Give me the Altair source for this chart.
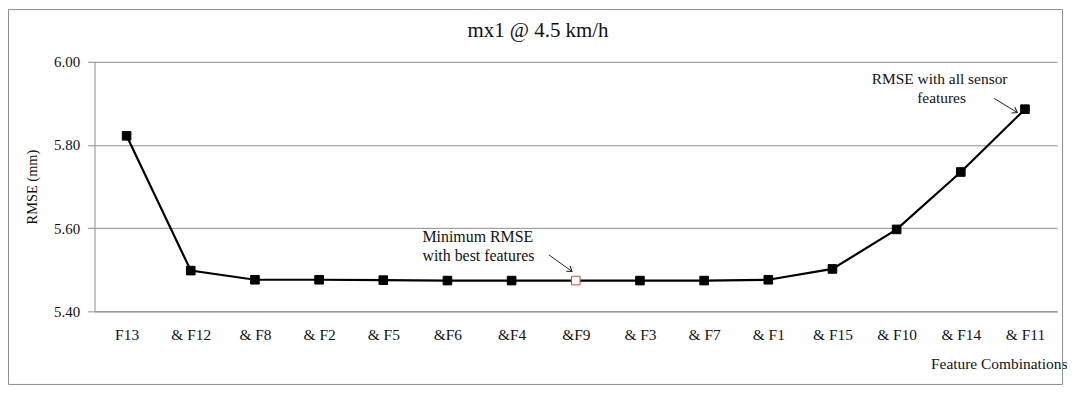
import altair as alt
import pandas as pd

categories = ["F13", "& F12", "& F8", "& F2", "& F5", "&F6", "&F4", "&F9",
              "& F3", "& F7", "& F1", "& F15", "& F10", "& F14", "& F11"]
rmse = [5.822, 5.498, 5.476, 5.476, 5.475, 5.474, 5.474, 5.474,
        5.474, 5.474, 5.476, 5.502, 5.597, 5.735, 5.886]
best_index = 7
title_text = "mx1 @ 4.5 km/h"

# annotation texts
ann_text = ["Minimum RMSE", "with best features", "RMSE with all sensor", "features"]
ann_x = [4.61, 4.61, 12.67, 12.70]
ann_y = [5.579, 5.534, 5.959, 5.912]
ann_align = ["left", "left", "center", "center"]

# arrows (start x, start y, end x, end y, head angle)
arr_x = [6.58, 13.52]
arr_y = [5.536, 5.912]
arr_x2 = [6.94, 13.88]
arr_y2 = [5.496, 5.878]
arr_angle = [36.5, 31.0]

df = pd.DataFrame({"idx": list(range(len(categories))), "cat": categories, "rmse": rmse})
df["best"] = df["idx"] == best_index
ann = pd.DataFrame({"x": ann_x, "y": ann_y, "text": ann_text, "align": ann_align})
arr = pd.DataFrame({"x": arr_x, "y": arr_y, "x2": arr_x2, "y2": arr_y2, "angle": arr_angle})

label_expr = "[" + ",".join("'" + c + "'" for c in categories) + "][datum.value]"

xscale = alt.Scale(domain=[-0.5, len(categories) - 0.5], nice=False, zero=False)
yscale = alt.Scale(domain=[5.4, 6.0], nice=False, zero=False)

GRID = "#8c8c8c"
SERIF = "Liberation Serif"
TXT = "#111111"

x_axis = alt.Axis(
    values=list(range(len(categories))), labelExpr=label_expr, grid=False,
    ticks=False, domain=True, domainColor=GRID, labelFont=SERIF, labelFontSize=15.5,
    labelColor=TXT, labelPadding=16, title="Feature Combinations",
    titleFont=SERIF, titleFontSize=15.5, titleFontWeight="normal", titleColor=TXT,
    titleAnchor="end", titleAlign="right", titleX=978, titleY=52, titleBaseline="middle",
)
y_axis = alt.Axis(
    values=[5.4, 5.6, 5.8, 6.0], format=".2f", grid=True, gridColor=GRID,
    domainColor=GRID, tickColor=GRID, tickSize=7, labelFont=SERIF, labelFontSize=15,
    labelColor=TXT, labelPadding=8, title="RMSE (mm)", titleFont=SERIF,
    titleFontSize=14.5, titleFontWeight="normal", titleColor=TXT, titleX=-62,
    titleBaseline="middle",
)

base = alt.Chart(df)
line = base.mark_line(color="black", strokeWidth=2.2).encode(
    x=alt.X("idx:Q", scale=xscale, axis=x_axis),
    y=alt.Y("rmse:Q", scale=yscale, axis=y_axis),
)
pts = base.mark_point(shape="square", size=75, filled=True, opacity=1).encode(
    x="idx:Q", y="rmse:Q",
    fill=alt.condition("datum.best", alt.value("white"), alt.value("black")),
    stroke=alt.condition("datum.best", alt.value("#b0504a"), alt.value("black")),
    strokeWidth=alt.value(1),
)
t_left = alt.Chart(ann[ann["align"] == "left"]).mark_text(
    font=SERIF, fontSize=16, color=TXT, baseline="middle", align="left"
).encode(x="x:Q", y="y:Q", text="text:N")
t_center = alt.Chart(ann[ann["align"] == "center"]).mark_text(
    font=SERIF, fontSize=15.5, color=TXT, baseline="middle", align="center"
).encode(x="x:Q", y="y:Q", text="text:N")
arrows = alt.Chart(arr).mark_rule(color="#222", strokeWidth=1).encode(
    x="x:Q", y="y:Q", x2="x2:Q", y2="y2:Q"
)
heads = alt.Chart(arr).mark_point(
    shape="M-1,-0.7L0,0L-1,0.7", size=90, filled=False, color="#222", strokeWidth=1.1, opacity=1
).encode(x="x2:Q", y="y2:Q", angle=alt.Angle("angle:Q", scale=None))

one = pd.DataFrame({"t": [title_text]})
border = alt.Chart(one).mark_rect(
    fillOpacity=0, stroke="#8c8c8c", strokeWidth=1
).encode(
    x=alt.value(-86.5), x2=alt.value(973.5), y=alt.value(-52.5), y2=alt.value(324.5)
)
title = alt.Chart(one).mark_text(
    font=SERIF, fontSize=21, color=TXT, align="center", baseline="middle"
).encode(x=alt.value(446), y=alt.value(-31), text="t:N")

chart = alt.layer(border, title, line, pts, arrows, heads, t_left, t_center).properties(
    width=968, height=251,
    background="white",
    autosize=alt.AutoSizeParams(type="none"),
    padding={"left": 87, "top": 53, "right": 10, "bottom": 76},
).configure_view(stroke=None)

chart.save("out.html", embed_options={"renderer": "svg", "actions": False})
